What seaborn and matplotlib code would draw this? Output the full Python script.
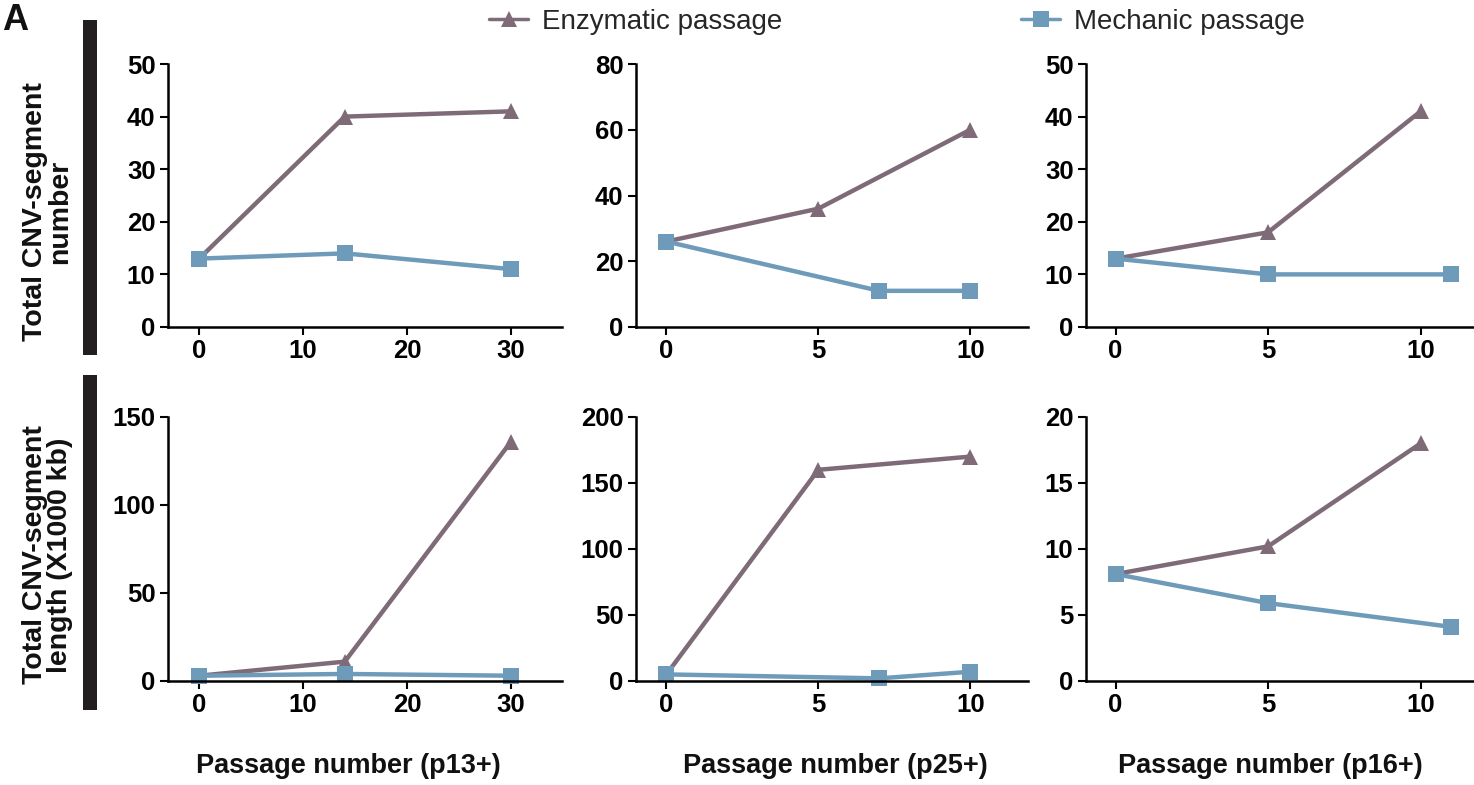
import numpy as np
import pandas as pd
import matplotlib
matplotlib.use("Agg")
import matplotlib.pyplot as plt
from matplotlib.lines import Line2D
from matplotlib.patches import Rectangle
import seaborn as sns

# ---------------- data ----------------
series_names = ["Enzymatic passage", "Mechanic passage"]
colors = {"Enzymatic passage": "#7f6b78", "Mechanic passage": "#6f9bba"}
markers = {"Enzymatic passage": "^", "Mechanic passage": "s"}

# column 1 (p13+)
c1_x_enz = [0, 14, 30]
c1_x_mech = [0, 14, 30]
c1_num_enz = [13, 40, 41]
c1_num_mech = [13, 14, 11]
c1_len_enz = [3, 11, 136]
c1_len_mech = [3, 4, 3]

# column 2 (p25+)
c2_x_enz = [0, 5, 10]
c2_x_mech = [0, 7, 10]
c2_num_enz = [26, 36, 60]
c2_num_mech = [26, 11, 11]
c2_len_enz = [5, 160, 170]
c2_len_mech = [5, 2, 7]

# column 3 (p16+)
c3_x_enz = [0, 5, 10]
c3_x_mech = [0, 5, 11]
c3_num_enz = [13, 18, 41]
c3_num_mech = [13, 10, 10]
c3_len_enz = [8.1, 10.2, 18.0]
c3_len_mech = [8.1, 5.9, 4.1]

xlabels = ["Passage number (p13+)", "Passage number (p25+)", "Passage number (p16+)"]
row_labels = ["Total CNV-segment\nnumber", "Total CNV-segment\nlength (X1000 kb)"]

xticks = [[0, 10, 20, 30], [0, 5, 10], [0, 5, 10]]
xlims = [(-3, 34.9), (-1, 11.9), (-0.97, 11.75)]
yticks_top = [[0, 10, 20, 30, 40, 50], [0, 20, 40, 60, 80], [0, 10, 20, 30, 40, 50]]
yticks_bot = [[0, 50, 100, 150], [0, 50, 100, 150, 200], [0, 5, 10, 15, 20]]

# ---------------- style ----------------
sns.set_style("ticks")
plt.rcParams["font.family"] = ["Liberation Sans", "DejaVu Sans"]

W, H = 1474, 785
fig = plt.figure(figsize=(W / 100, H / 100), dpi=100)

def px_axes(left, top, right, bottom):
    return fig.add_axes([left / W, 1 - bottom / H, (right - left) / W, (bottom - top) / H])

col_bounds = [(168, 562), (636, 1028), (1086, 1474)]
row_bounds = [(64, 327), (417, 681)]

panels = [
    [(c1_x_enz, c1_num_enz, c1_x_mech, c1_num_mech),
     (c2_x_enz, c2_num_enz, c2_x_mech, c2_num_mech),
     (c3_x_enz, c3_num_enz, c3_x_mech, c3_num_mech)],
    [(c1_x_enz, c1_len_enz, c1_x_mech, c1_len_mech),
     (c2_x_enz, c2_len_enz, c2_x_mech, c2_len_mech),
     (c3_x_enz, c3_len_enz, c3_x_mech, c3_len_mech)],
]
yticks_all = [yticks_top, yticks_bot]

tick_fs = 18.5
for r in range(2):
    for c in range(3):
        l, rr = col_bounds[c]
        t, b = row_bounds[r]
        ax = px_axes(l, t, rr, b)
        xe, ye, xm, ym = panels[r][c]
        df = pd.DataFrame({
            "passage": list(xe) + list(xm),
            "value": list(ye) + list(ym),
            "series": [series_names[0]] * len(xe) + [series_names[1]] * len(xm),
        })
        sns.lineplot(data=df, x="passage", y="value", hue="series", style="series",
                     hue_order=series_names, style_order=series_names,
                     palette=colors, markers=markers, dashes=False,
                     linewidth=3.2, markersize=11.5, markeredgewidth=0,
                     legend=False, ax=ax)
        for ln in ax.lines:
            ln.set_clip_on(False)
        yt = yticks_all[r][c]
        ax.set_xlim(*xlims[c])
        ax.set_ylim(0, yt[-1])
        ax.set_xticks(xticks[c])
        ax.set_yticks(yt)
        ax.set_xlabel("")
        ax.set_ylabel("")
        for s in ["top", "right"]:
            ax.spines[s].set_visible(False)
        for s in ["left", "bottom"]:
            ax.spines[s].set_linewidth(1.8)
            ax.spines[s].set_color("black")
        ax.tick_params(direction="out", length=6, width=1.5, colors="black",
                       labelsize=tick_fs, pad=3)
        for lab in ax.get_xticklabels() + ax.get_yticklabels():
            lab.set_fontweight("bold")

# x labels
xlabel_cx = [348, 835, 1270]
for cx, txt in zip(xlabel_cx, xlabels):
    fig.text(cx / W, 1 - 766 / H, txt, ha="center", va="center",
             fontsize=19.5, fontweight="bold", color="#111111")

# row labels and black bars
row_label_cy = [212, 555]
bar_spans = [(20, 355), (375, 710)]
for cy, txt, (bt, bb) in zip(row_label_cy, row_labels, bar_spans):
    fig.text(48 / W, 1 - cy / H, txt, ha="center", va="center", rotation=90,
             fontsize=20.5, fontweight="bold", linespacing=0.95, multialignment="center",
             color="#111111")
    fig.add_artist(Rectangle((83 / W, 1 - bb / H), 14 / W, (bb - bt) / H,
                             transform=fig.transFigure, facecolor="#231f20",
                             edgecolor="none"))

# panel letter
fig.text(2 / W, 1 - 30 / H, "A", ha="left", va="baseline",
         fontsize=26, fontweight="bold", color="#111111")

# legend
handles = [Line2D([], [], color=colors[s], marker=markers[s], linewidth=2.5,
                  markersize=11, markeredgewidth=0) for s in series_names]
fig.legend(handles, series_names, loc="center", bbox_to_anchor=(897 / W, 1 - 22 / H),
           ncol=2, frameon=False, fontsize=20, handlelength=1.4, handletextpad=0.5,
           columnspacing=8.6, borderpad=0, borderaxespad=0)

fig.savefig("out.png", dpi=100)
